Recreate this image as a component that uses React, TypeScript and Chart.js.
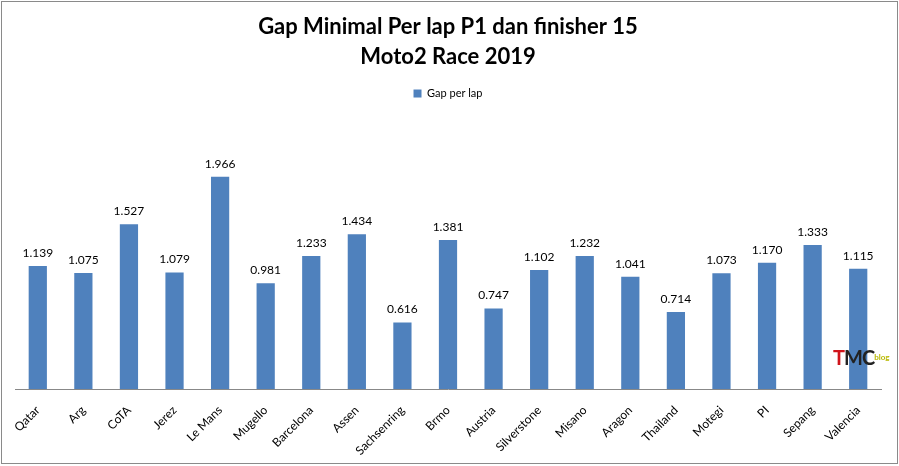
import { useEffect, useRef } from "react";
import { Chart, registerables } from "chart.js";

Chart.register(...registerables);

const circuits = [
  "Qatar", "Arg", "CoTA", "Jerez", "Le Mans", "Mugello", "Barcelona", "Assen", "Sachsenring", "Brmo",
  "Austria", "Silverstone", "Misano", "Aragon", "Thailand", "Motegi", "PI", "Sepang", "Valencia",
];
const gapPerLap = [
  1.139, 1.075, 1.527, 1.079, 1.966, 0.981, 1.233, 1.434, 0.616, 1.381,
  0.747, 1.102, 1.232, 1.041, 0.714, 1.073, 1.17, 1.333, 1.115,
];
const titleLines = ["Gap Minimal Per lap P1 dan finisher 15", "Moto2 Race 2019"];
const seriesName = "Gap per lap";

const valueLabels = {
  id: "valueLabels",
  afterDatasetsDraw(chart: Chart) {
    const ctx = chart.ctx;
    const meta = chart.getDatasetMeta(0);
    ctx.save();
    ctx.font = "12px Lato";
    ctx.fillStyle = "#000";
    ctx.textAlign = "center";
    ctx.textBaseline = "middle";
    meta.data.forEach((bar: any, i: number) => {
      ctx.fillText(gapPerLap[i].toFixed(3), bar.x, bar.y - 13);
    });
    ctx.restore();
  },
};

export default function App() {
  const canvasRef = useRef<HTMLCanvasElement | null>(null);

  useEffect(() => {
    document.body.style.margin = "0";
    if (!canvasRef.current) {
      return;
    }

    const chart = new Chart(canvasRef.current, {
      type: "bar",
      data: {
        labels: circuits,
        datasets: [
          {
            label: seriesName,
            data: gapPerLap,
            backgroundColor: "#4F81BD",
            categoryPercentage: 1,
            barPercentage: 0.4,
          },
        ],
      },
      options: {
        responsive: false,
        animation: false,
        layout: { padding: { left: 15, right: 18, top: 0, bottom: 2 } },
        plugins: {
          title: {
            display: true,
            text: titleLines,
            color: "#000",
            font: { family: "Lato", size: 22, weight: "bold", lineHeight: 1.364 },
            padding: { top: 12, bottom: 6 },
          },
          legend: {
            labels: {
              boxWidth: 8,
              boxHeight: 8,
              color: "#000",
              font: { family: "Lato", size: 11 },
            },
          },
          tooltip: { enabled: false },
        },
        scales: {
          x: {
            grid: { display: false },
            border: { color: "#888" },
            ticks: {
              color: "#000",
              font: { family: "Lato", size: 12 },
              maxRotation: 45,
              minRotation: 45,
              padding: 6,
            },
          },
          y: {
            display: false,
            min: 0,
            max: 2.593,
          },
        },
      },
      plugins: [valueLabels],
    });

    return () => chart.destroy();
  }, []);

  return (
    <div style={{ position: "relative", width: 899, height: 466, background: "#fff" }}>
      <canvas ref={canvasRef} width={899} height={466} style={{ display: "block" }} />
      <div
        style={{
          position: "absolute",
          left: 1,
          top: 1,
          width: 897,
          height: 463,
          boxSizing: "border-box",
          border: "1.5px solid #8a8a8a",
          pointerEvents: "none",
        }}
      />
      <div
        style={{
          position: "absolute",
          left: 833,
          top: 347,
          fontFamily: "Lato",
          fontWeight: "bold",
          fontSize: 20,
          letterSpacing: -1,
          lineHeight: "20px",
        }}
      >
        <span style={{ color: "#d0141b" }}>T</span>
        <span style={{ color: "#222" }}>MC</span>
        <span style={{ color: "#b8b800", fontSize: 8, verticalAlign: "top", letterSpacing: 0 }}>blog</span>
      </div>
    </div>
  );
}
